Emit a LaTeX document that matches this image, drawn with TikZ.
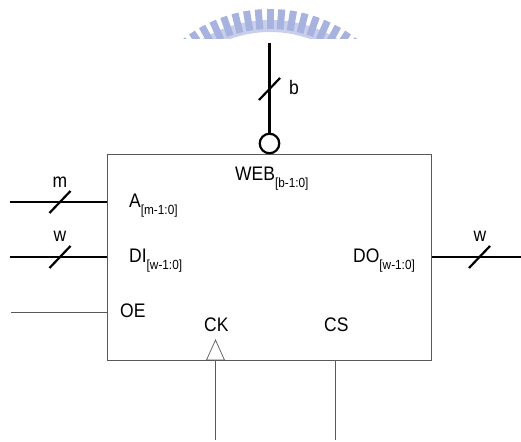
\documentclass[tikz,border=0pt]{standalone}
\usepackage{fontspec}
\setmainfont{Liberation Sans}
\definecolor{boxcolor}{rgb}{0.35, 0.35, 0.35}
\definecolor{sealcolor}{rgb}{0.66, 0.70, 0.87}
\definecolor{bandcolor}{rgb}{0.78, 0.81, 0.93}
\usetikzlibrary{positioning}
\tikzset{
	block/.style={
		rectangle,
		draw=boxcolor,
		line width=0.9pt,
		fill=white,
		minimum width=324pt,
		minimum height=205.5pt,
		inner sep=0pt
	},
	bus/.style={
		draw=black,
		line width=2.2pt
	},
	wire/.style={
		draw=boxcolor,
		line width=0.9pt
	},
	pinname/.style={
		font=\fontsize{17.5}{18}\selectfont,
		inner sep=0pt,
		yscale=1.12,
		transform shape,
		anchor=base west
	},
	buswidth/.style={
		font=\fontsize{17.5}{18}\selectfont,
		inner sep=0pt,
		yscale=1.12,
		transform shape,
		anchor=base
	},
	bubble/.style={
		circle,
		draw=black,
		line width=2.2pt,
		fill=white,
		minimum size=19.5pt,
		inner sep=0pt
	},
	clocktip/.style={
		draw=boxcolor,
		line width=0.7pt,
		fill=white
	},
	seal/.style={
		fill=sealcolor,
		draw=none
	},
}
\newcommand{\subidx}[1]{\raisebox{-6pt}{\fontsize{11.8}{12}\selectfont #1}}
\begin{document}
\begin{tikzpicture}[x=1pt,y=1pt]
\useasboundingbox (0,0) rectangle (521,441);
% seal on top of the page
\begin{scope}
\clip (150,402) rectangle (390,441);
\fill[bandcolor] (270,291) ++(50:118) arc (50:130:118) -- ++(130:12) arc (130:50:130) -- cycle;
\foreach \a in {-38.4,-33.6,...,38.4} {
	\fill[seal,rotate around={\a:(270,291)}] (266.5,412) rectangle (273.5,432);
}
\end{scope}
% memory block
\node[block] (ram) at (269.5,183.75) {};
\node[bubble] (web) at (269.5,297.5) {};
\coordinate (webtop) at (269.5,398);
\coordinate (ain) at (10,239);
\coordinate (diin) at (10,184);
\coordinate (oein) at (11,129);
\coordinate (doout) at (521,184);
\coordinate (ckin) at (215.5,1);
\coordinate (csin) at (335.5,1);
% thick buses
\draw[bus] (webtop) -- (web);
\draw[bus] (ain) -- (ain -| ram.west);
\draw[bus] (diin) -- (diin -| ram.west);
\draw[bus] (doout) -- (doout -| ram.east);
\coordinate (bmark) at (269.5,352);
\coordinate (amark) at (60,239);
\coordinate (dimark) at (60,184);
\coordinate (domark) at (479.5,184);
\foreach \m in {amark,dimark,domark,bmark} {
	\draw[bus] ([shift={(-10.5,-11)}]\m) -- ([shift={(10.5,11)}]\m);
}
% thin wires
\draw[wire] (oein) -- (oein -| ram.west);
\draw[wire] (ckin) -- (ckin |- ram.south);
\draw[wire] (csin) -- (csin |- ram.south);
\draw[clocktip] (206.5,81) -- (215.5,101) -- (224.5,81) -- cycle;
% labels
\node[buswidth] (bw) at (294,346) {b};
\node[buswidth] (mw) at (60,253) {m};
\node[buswidth] (ww) at (60,199) {w};
\node[buswidth] (dw) at (480,199) {w};
\node[pinname] (weblabel) at (235,260) {WEB\subidx{[b-1:0]}};
\node[pinname] (alabel) at (129,233) {A\subidx{[m-1:0]}};
\node[pinname] (dilabel) at (129,178) {DI\subidx{[w-1:0]}};
\node[pinname] (dolabel) at (353,178) {DO\subidx{[w-1:0]}};
\node[pinname] (oelabel) at (120,123) {OE};
\node[pinname] (cklabel) at (204,109) {CK};
\node[pinname] (cslabel) at (324,109) {CS};
\end{tikzpicture}
\end{document}
